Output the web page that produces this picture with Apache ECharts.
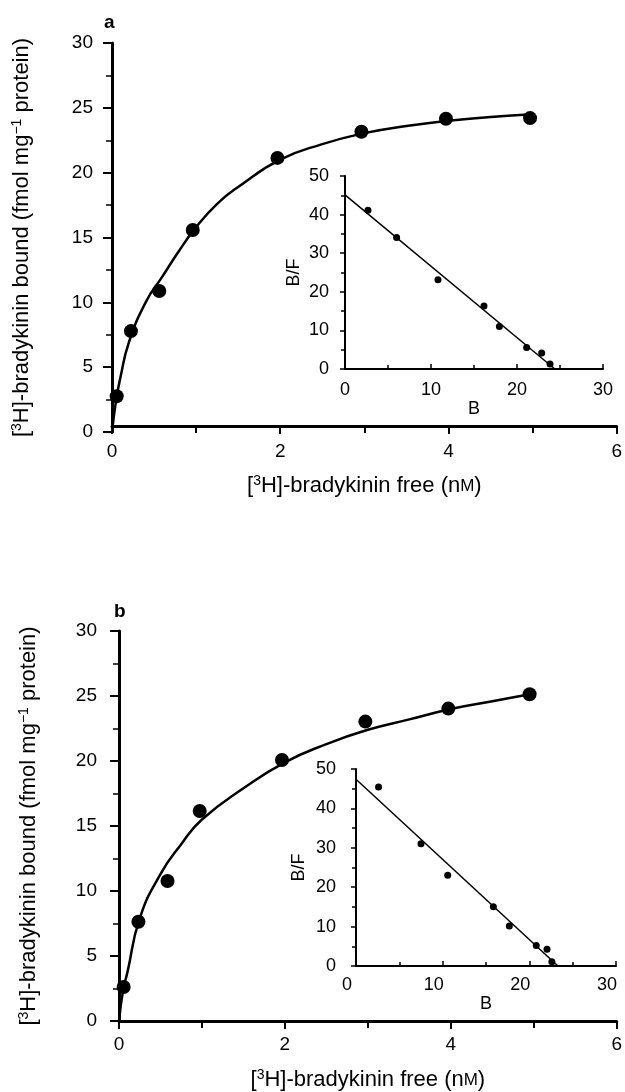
<!DOCTYPE html>
<html>
<head>
<meta charset="utf-8">
<script src="https://cdn.jsdelivr.net/npm/echarts@6/dist/echarts.min.js"></script>
<style>
  html, body { margin: 0; padding: 0; background: #fff; }
  #chart { width: 625px; height: 1092px; }
</style>
</head>
<body>
<div id="chart"></div>
<script>
// panel a, saturation points
let aFree = [0.056, 0.225, 0.562, 0.96, 1.967, 2.965, 3.97, 4.97];
let aBound = [2.76, 7.78, 10.87, 15.58, 21.14, 23.15, 24.16, 24.21];
// panel a, fitted curve
let aCurveX = [0, 0.05, 0.1, 0.2, 0.4, 0.6, 0.8, 1.0, 1.25, 1.5, 2.0, 2.5, 3.0, 3.5, 4.0, 4.5, 5.0];
let aCurveY = [0, 2.5, 4.2, 6.9, 10.0, 12.0, 14.0, 15.8, 17.6, 18.9, 21.0, 22.2, 23.05, 23.6, 24.0, 24.3, 24.5];
// panel a, scatchard inset
let aB = [2.67, 6.0, 10.81, 16.16, 17.95, 21.12, 22.87, 23.84];
let aBF = [41.1, 34.05, 23.1, 16.3, 11.03, 5.6, 4.14, 1.3];
let aLineB = [0, 24.4];
let aLineBF = [45.1, 0];

// panel b
let bFree = [0.056, 0.234, 0.585, 0.973, 1.965, 2.97, 3.97, 4.95];
let bBound = [2.62, 7.64, 10.77, 16.15, 20.08, 23.03, 24.03, 25.13];
let bCurveX = [0, 0.05, 0.1, 0.25, 0.5, 0.75, 1.0, 1.5, 2.0, 2.5, 3.0, 3.5, 4.0, 4.5, 5.0];
let bCurveY = [0, 2.4, 3.7, 7.9, 11.3, 13.6, 15.5, 17.9, 19.9, 21.3, 22.4, 23.2, 24.0, 24.6, 25.2];
let bB = [2.6, 7.5, 10.58, 15.85, 17.69, 20.8, 22.04, 22.6];
let bBF = [45.4, 31.0, 23.06, 15.06, 10.13, 5.19, 4.26, 1.1];
let bLineB = [0, 23.3];
let bLineBF = [47.4, 0];

let mainTicks = [0, 2, 4, 6];
let boundTicks = [0, 5, 10, 15, 20, 25, 30];
let insetXTicks = [0, 10, 20, 30];
let insetYTicks = [0, 10, 20, 30, 40, 50];

let freeTitle = '[{sup|3}H]-bradykinin free (n{sc|M})';
let boundTitle = '[{sup|3}H]-bradykinin bound (fmol mg{sup|−1} protein)';

let font = '"Liberation Sans", Arial, sans-serif';
let black = '#000';

function zip(xs, ys) {
  return xs.map((x, i) => [x, ys[i]]);
}

let titleRich = {
  sup: { fontSize: 14, fontFamily: font, color: black, padding: [0, 0, 10, 0] },
  sc: { fontSize: 17, fontFamily: font, color: black }
};

function mainX(grid, offset, margin, gap) {
  return {
    gridIndex: grid, type: 'value', min: 0, max: 6, interval: 2, offset: offset,
    axisLine: { onZero: false, lineStyle: { color: black, width: 3 } },
    axisTick: { length: 8, lineStyle: { color: black, width: 2 } },
    minorTick: { show: true, splitNumber: 2, length: 7, lineStyle: { color: black, width: 2 } },
    splitLine: { show: false },
    axisLabel: { color: black, fontSize: 19, fontFamily: font, margin: margin,
      formatter: v => mainTicks.includes(v) ? String(v) : '' },
    name: freeTitle, nameLocation: 'middle', nameGap: gap,
    nameTextStyle: { color: black, fontSize: 22, fontFamily: font, rich: titleRich }
  };
}

function mainY(grid, margin) {
  return {
    gridIndex: grid, type: 'value', min: 0, max: 30, interval: 5,
    axisLine: { onZero: false, lineStyle: { color: black, width: 3 } },
    axisTick: { length: 9, lineStyle: { color: black, width: 2 } },
    minorTick: { show: true, splitNumber: 2, length: 6, lineStyle: { color: black, width: 1.5 } },
    splitLine: { show: false },
    axisLabel: { color: black, fontSize: 19, fontFamily: font, margin: margin,
      formatter: v => boundTicks.includes(v) ? String(v) : '' },
    name: boundTitle, nameLocation: 'middle', nameGap: 78, nameRotate: 90,
    nameTextStyle: { color: black, fontSize: 22, fontFamily: font, rich: titleRich }
  };
}

function insetX(grid, margin, gap, labelPad) {
  return {
    gridIndex: grid, type: 'value', min: 0, max: 30, interval: 10,
    axisLine: { onZero: false, lineStyle: { color: black, width: 2 } },
    axisTick: { inside: true, length: 5, lineStyle: { color: black, width: 1.5 } },
    minorTick: { show: true, splitNumber: 2, length: 4, lineStyle: { color: black, width: 1.5 } },
    splitLine: { show: false },
    axisLabel: { color: black, fontSize: 18, fontFamily: font, margin: margin, padding: labelPad,
      formatter: v => insetXTicks.includes(v) ? String(v) : '' },
    name: 'B', nameLocation: 'middle', nameGap: gap,
    nameTextStyle: { color: black, fontSize: 18, fontFamily: font }
  };
}

function insetY(grid, margin, gap) {
  return {
    gridIndex: grid, type: 'value', min: 0, max: 50, interval: 10,
    axisLine: { onZero: false, lineStyle: { color: black, width: 2 } },
    axisTick: { length: 5, lineStyle: { color: black, width: 1.5 } },
    minorTick: { show: true, splitNumber: 2, length: 4, lineStyle: { color: black, width: 1.5 } },
    splitLine: { show: false },
    axisLabel: { color: black, fontSize: 18, fontFamily: font, margin: margin,
      formatter: v => insetYTicks.includes(v) ? String(v) : '' },
    name: 'B/F', nameLocation: 'middle', nameGap: gap, nameRotate: 90,
    nameTextStyle: { color: black, fontSize: 18, fontFamily: font }
  };
}

function dots(axis, data, size) {
  return {
    type: 'scatter', xAxisIndex: axis, yAxisIndex: axis, data: data,
    symbol: 'circle', symbolSize: size, itemStyle: { color: black, opacity: 1 }, z: 3
  };
}

function curve(axis, data, width, smooth) {
  return {
    type: 'line', xAxisIndex: axis, yAxisIndex: axis, data: data, smooth: smooth,
    showSymbol: false, lineStyle: { color: black, width: width }, z: 2
  };
}

let myChart = echarts.init(document.getElementById('chart'), null, { renderer: 'canvas' });
myChart.setOption({
  animation: false,
  backgroundColor: '#fff',
  title: [
    { text: 'a', left: 99, top: 8, textStyle: { fontSize: 19, fontWeight: 'bold', fontFamily: font, color: black } },
    { text: 'b', left: 109, top: 597, textStyle: { fontSize: 19, fontWeight: 'bold', fontFamily: font, color: black } }
  ],
  grid: [
    { left: 112, top: 43, width: 511, height: 389 },
    { left: 345, top: 176, width: 258, height: 193 },
    { left: 119, top: 631, width: 512, height: 390 },
    { left: 356, top: 769, width: 260, height: 197 }
  ],
  xAxis: [
    mainX(0, -6, 16, 48),
    insetX(1, 12, 29, 0),
    mainX(2, 0, 14, 47),
    insetX(3, 10, 26, [0, 18, 0, 0])
  ],
  yAxis: [
    mainY(0, 19),
    insetY(1, 16, 42),
    mainY(2, 22),
    insetY(3, 20, 48)
  ],
  series: [
    curve(0, zip(aCurveX, aCurveY), 2.5, 0.5),
    dots(0, zip(aFree, aBound), 14),
    curve(1, zip(aLineB, aLineBF), 1.5, false),
    dots(1, zip(aB, aBF), 7),
    curve(2, zip(bCurveX, bCurveY), 2.5, 0.5),
    dots(2, zip(bFree, bBound), 14),
    curve(3, zip(bLineB, bLineBF), 1.5, false),
    dots(3, zip(bB, bBF), 7)
  ]
});
</script>
</body>
</html>
